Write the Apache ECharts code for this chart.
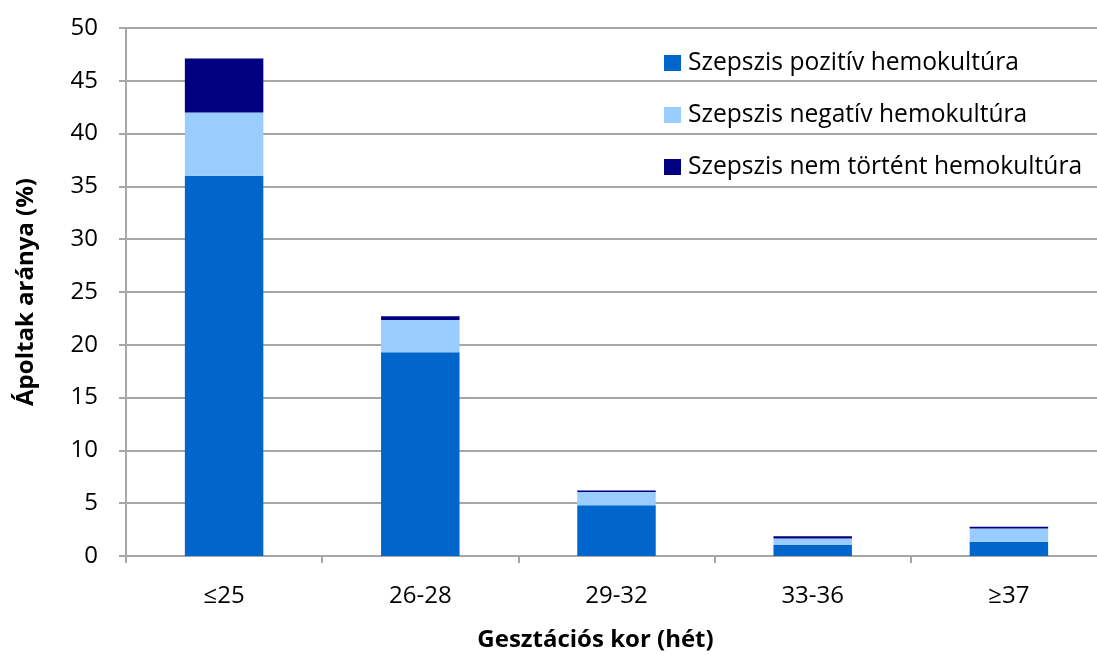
<!DOCTYPE html>
<html>
<head>
<meta charset="utf-8">
<script src="https://cdn.jsdelivr.net/npm/echarts@6/dist/echarts.min.js"></script>
<style>
  html, body { margin: 0; padding: 0; background: #fff; }
  #chart { width: 1097px; height: 655px; }
</style>
</head>
<body>
<div id="chart"></div>
<script>
const categories = ['≤25', '26-28', '29-32', '33-36', '≥37']
const pozitiv = [36.0, 19.3, 4.8, 1.05, 1.35]
const negativ = [6.0, 3.05, 1.25, 0.6, 1.25]
const nemTortent = [5.1, 0.35, 0.15, 0.22, 0.16]

const font = 'Open Sans'
const gridColor = '#a6a6a6'

function makeSeries(name, data, color) {
  return {
    name,
    type: 'bar',
    stack: 'total',
    data,
    barWidth: '40%',
    itemStyle: { color },
    emphasis: { disabled: true }
  }
}

// the original picture is cropped on the right, so the plot runs past the edge
const myChart = echarts.init(document.getElementById('chart'))
const option = {
  animation: false,
  textStyle: { fontFamily: font },
  grid: { left: 126, right: -10, top: 28, bottom: 99, outerBoundsMode: 'none', containLabel: false },
  legend: {
    orient: 'vertical',
    left: 659,
    top: 45,
    itemWidth: 17,
    itemHeight: 16,
    itemGap: 26,
    icon: 'rect',
    textStyle: { fontFamily: font, fontSize: 24.6, lineHeight: 26, color: '#000', padding: [0, 0, 0, 2] },
    data: ['Szepszis pozitív hemokultúra', 'Szepszis negatív hemokultúra', 'Szepszis nem történt hemokultúra']
  },
  xAxis: {
    type: 'category',
    data: categories,
    name: 'Gesztációs kor (hét)',
    nameLocation: 'middle',
    nameGap: 72,
    // shift left, the title was centred on the uncropped plot
    nameTextStyle: { fontFamily: font, fontSize: 24, fontWeight: 'bold', color: '#000', padding: [0, 42, 0, 0] },
    axisLine: { lineStyle: { color: gridColor, width: 2 } },
    axisTick: { show: true, length: 7, lineStyle: { color: gridColor, width: 2 } },
    axisLabel: { fontFamily: font, fontSize: 24, color: '#000', margin: 28 }
  },
  yAxis: {
    type: 'value',
    min: 0,
    max: 50,
    interval: 5,
    name: 'Ápoltak aránya (%)',
    nameLocation: 'middle',
    nameGap: 88,
    nameTextStyle: { fontFamily: font, fontSize: 24, fontWeight: 'bold', color: '#000' },
    axisLine: { show: true, lineStyle: { color: gridColor, width: 2 } },
    axisTick: { show: true, length: 7, lineStyle: { color: gridColor, width: 2 } },
    splitLine: { lineStyle: { color: gridColor, width: 2 } },
    axisLabel: { fontFamily: font, fontSize: 24, color: '#000', margin: 28 }
  },
  series: [
    makeSeries('Szepszis pozitív hemokultúra', pozitiv, '#0066cc'),
    makeSeries('Szepszis negatív hemokultúra', negativ, '#99ccff'),
    makeSeries('Szepszis nem történt hemokultúra', nemTortent, '#000080')
  ]
}
myChart.setOption(option)
</script>
</body>
</html>
